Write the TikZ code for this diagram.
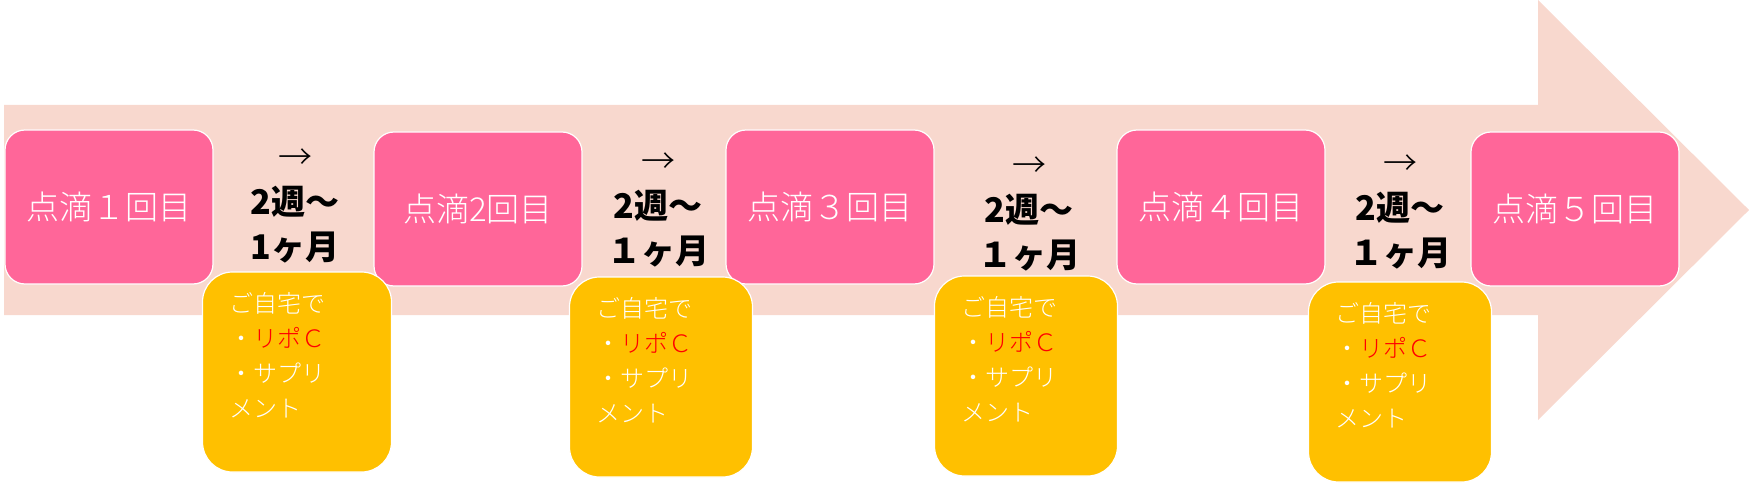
\documentclass[tikz,border=0pt]{standalone}
\usepackage{fontspec}
\setmainfont{Noto Sans CJK JP}
\newfontfamily\jplight{Noto Sans CJK JP Light}
\usetikzlibrary{positioning}
\definecolor{arrowpink}{HTML}{F8D8CE}
\definecolor{dosepink}{HTML}{FF6699}
\definecolor{homeyellow}{HTML}{FFC000}

\begin{document}
\begin{tikzpicture}[x=1pt,y=-1pt,
    dose/.style={draw=white,line width=1.2pt,fill=dosepink,rounded corners=20pt,
      minimum width=208pt,minimum height=154pt,inner sep=0pt,text=white,
      font=\jplight\fontsize{33}{36}\selectfont},
    home/.style={draw=white,line width=1.2pt,fill=homeyellow,rounded corners=30pt,
      minimum width=183pt,minimum height=200pt,inner sep=0pt},
    hometext/.style={align=left,inner sep=0pt,text=white,
      font=\jplight\fontsize{24}{35}\selectfont},
    wait/.style={align=center,inner sep=0pt,font=\fontsize{34}{45}\selectfont\bfseries}]
    \useasboundingbox (0,0) rectangle (1749,484);
    % big arrow
    \fill[arrowpink] (4,105) -- (1538,105) -- (1538,0) -- (1749,210)
        -- (1538,420) -- (1538,315) -- (4,315) -- cycle;
    % drips
    \node[dose] (d1) at (109,207) {点滴１回目};
    \node[dose] (d2) at (478,209) {点滴2回目};
    \node[dose] (d3) at (830,207) {点滴３回目};
    \node[dose] (d4) at (1221,207) {点滴４回目};
    \node[dose] (d5) at (1575,209) {点滴５回目};
    % intervals
    \node[wait] (w1) at (295,206) {{\mdseries\jplight →}\\2週～\\1ヶ月};
    \node[wait] (w2) at (658,210) {{\mdseries\jplight →}\\2週～\\１ヶ月};
    \node[wait] (w3) at (1029,214) {{\mdseries\jplight →}\\2週～\\１ヶ月};
    \node[wait] (w4) at (1400,212) {{\mdseries\jplight →}\\2週～\\１ヶ月};
    % at home
    \node[home,minimum width=189pt] (h1) at (297,372) {};
    \node[home] (h2) at (661,377) {};
    \node[home] (h3) at (1026,376) {};
    \node[home] (h4) at (1400,382) {};
    \foreach \h in {h1,h2,h3,h4}
        \node[hometext,below right=21pt and 27pt of \h.north west]
            {ご自宅で\\・{\color{red}リポＣ}\\・サプリ\\メント};
\end{tikzpicture}
\end{document}
